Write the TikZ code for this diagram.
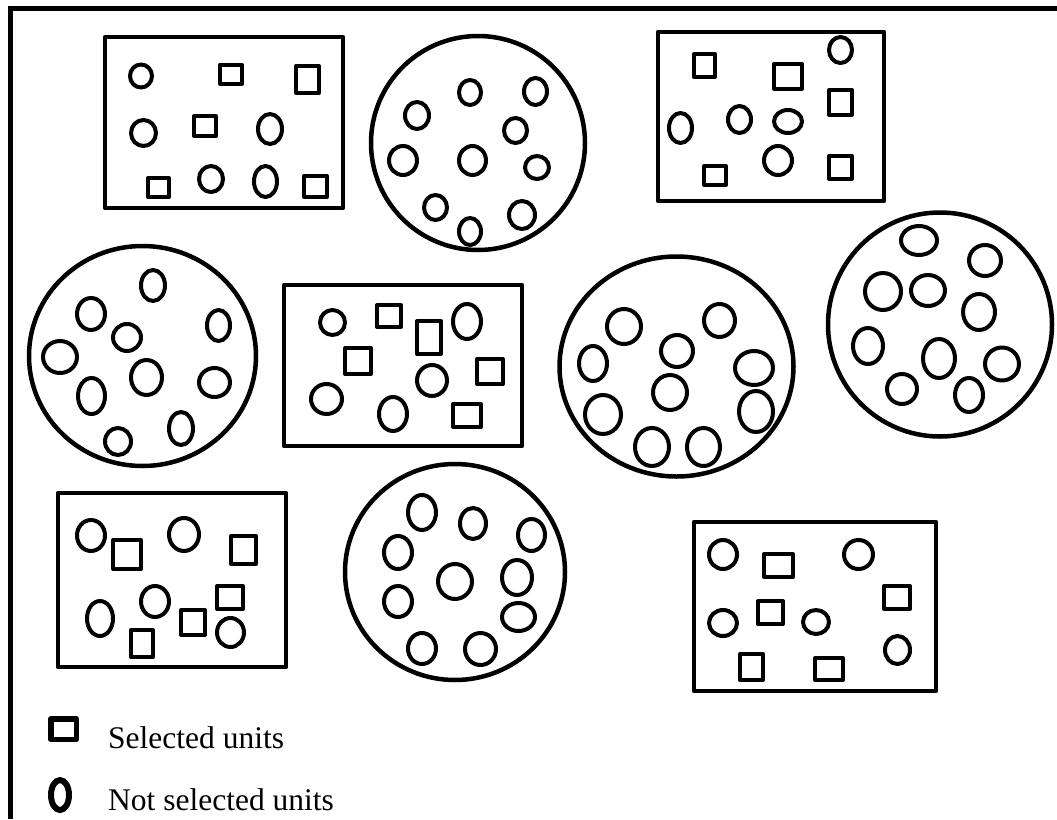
\documentclass[tikz,border=0pt]{standalone}
\usepackage{fontspec}
\setmainfont{Liberation Serif}
\tikzset{
  frameline/.style={line width=5pt},
  group/.style={line width=4.5pt, line join=round},
  unit/.style={line width=4pt, line join=round},
  legendtext/.style={anchor=base west, inner sep=0pt, font=\fontsize{31.5}{36}\selectfont}
}
\begin{document}
\begin{tikzpicture}[x=1pt, y=-1pt]
\useasboundingbox (0,0) rectangle (1057,819);
\draw[frameline] (1057,8) -- (10,8) -- (10,819);
\draw[group] (105,37) rectangle (343,208);
\draw[group] (478,143) circle [radius=107];
\draw[group] (658,32) rectangle (884,201);
\draw[group] (142.5,356) ellipse [x radius=113.5, y radius=110];
\draw[group] (284,285) rectangle (522,446);
\draw[group] (676.5,366.5) ellipse [x radius=117, y radius=110];
\draw[group] (940,324.5) circle [radius=112];
\draw[group] (58,493) rectangle (286,667);
\draw[group] (455,572) ellipse [x radius=110, y radius=108];
\draw[group] (694,522) rectangle (936,691);
\foreach \x/\y/\a/\b in {141/76/11/11.5, 143.5/133/12.5/13, 270/129/12/15, 211/179/12/13, 265.5/181.5/11.5/15.5,
  470/92.5/11/12.5, 535.5/91.5/11.5/13.5, 417/115.5/12/13.5, 515.5/130.5/11.5/12.5, 403/160.5/14/14.5,
  472.5/160.5/13.5/14.5, 537/167.5/12/11.5, 435.5/207.5/11.5/12.5, 470/231.5/11/13.5, 522/215/13/14,
  840.5/50/11.5/13, 680.5/128/11.5/15, 739.5/119.5/11.5/13.5, 788/121.5/14/11.5, 778/160.5/14/14.5,
  153/285.5/12/15.5, 91/314/14/16, 218.5/325.5/11.5/15.5, 127/337.5/14/13.5, 60/357/17/16,
  146.5/377.5/15.5/17.5, 214.5/382.5/15.5/14.5, 91.5/396/13.5/18, 118/441.5/13/13.5, 181/428.5/12/16.5,
  332.5/322.5/12.5/12.5, 467/321.5/14/17.5, 432/380.5/15/15.5, 326.5/399/15.5/15, 393/414/14/17,
  624/326.5/17/17.5, 719.5/320.5/15.5/16.5, 593/363.5/14/17.5, 677/351/16/16, 754/368/19/17,
  670/392.5/17/17.5, 603/414.5/18/19.5, 756/411.5/17/20.5, 652/447/17/19, 703.5/447/16.5/19,
  919/240.5/18/14.5, 985/260.5/16/15.5, 883/291.5/18/18.5, 928/290.5/17/15.5, 979/312/16/18,
  868/346/15/18, 939/358.5/16/19.5, 1002/364/17/16.5, 902/389/15/15, 969/395/14/17,
  91/535.5/14/15.5, 184/534.5/15/16.5, 100/618.5/13/17.5, 155/601.5/14/15.5, 230.5/632.5/13.5/14.5,
  422/512.5/14/17.5, 473/523.5/13/15.5, 531.5/535/13.5/16, 398/552.5/14/16.5, 455/581.5/17/17.5,
  517/577.5/15/17.5, 398/601.5/14/15.5, 518.5/617/16.5/14, 422/648.5/14/15.5, 480.5/649/15.5/16,
  723/554.5/14/14.5, 858.5/554.5/14.5/14.5, 723/623/14/13, 816/622/13/12, 897.5/650/12.5/14}
  \draw[unit] (\x,\y) ellipse [x radius=\a, y radius=\b];
\foreach \x/\y/\a/\b in {231/74/11/9.5, 307.5/79.5/11.5/13.5, 205/126/11/10, 158.5/187.5/10.5/9.5, 315.5/186.5/11.5/10.5,
  704.5/65.5/10.5/11.5, 788/76.5/14/12.5, 840.5/102.5/11.5/12.5, 715/175.5/11/9.5, 840.5/167.5/11.5/11.5,
  389/316/12/11, 429/337.5/12/16.5, 358/361/13/13, 490/371.5/13/12.5, 467/415.5/14/11.5,
  127/554.5/14/14.5, 243.5/550/12.5/14, 230/597.5/13/11.5, 193/622.5/12/12.5, 142/643.5/11/13.5,
  778.5/565.5/14.5/11.5, 897/597.5/13/11.5, 770.5/612.5/12.5/11.5, 751.5/667/11.5/13, 829/669/14/11}
  \draw[unit] (\x-\a,\y-\b) rectangle (\x+\a,\y+\b);
\draw[line width=5.5pt, line join=round] (50.75,718.75) rectangle (76.25,739.25);
\draw[line width=6pt] (60,795) ellipse [x radius=9, y radius=15];
\node[legendtext] (selected) at (108,748) {Selected units};
\node[legendtext] (notselected) at (108,810) {Not selected units};
\end{tikzpicture}
\end{document}
